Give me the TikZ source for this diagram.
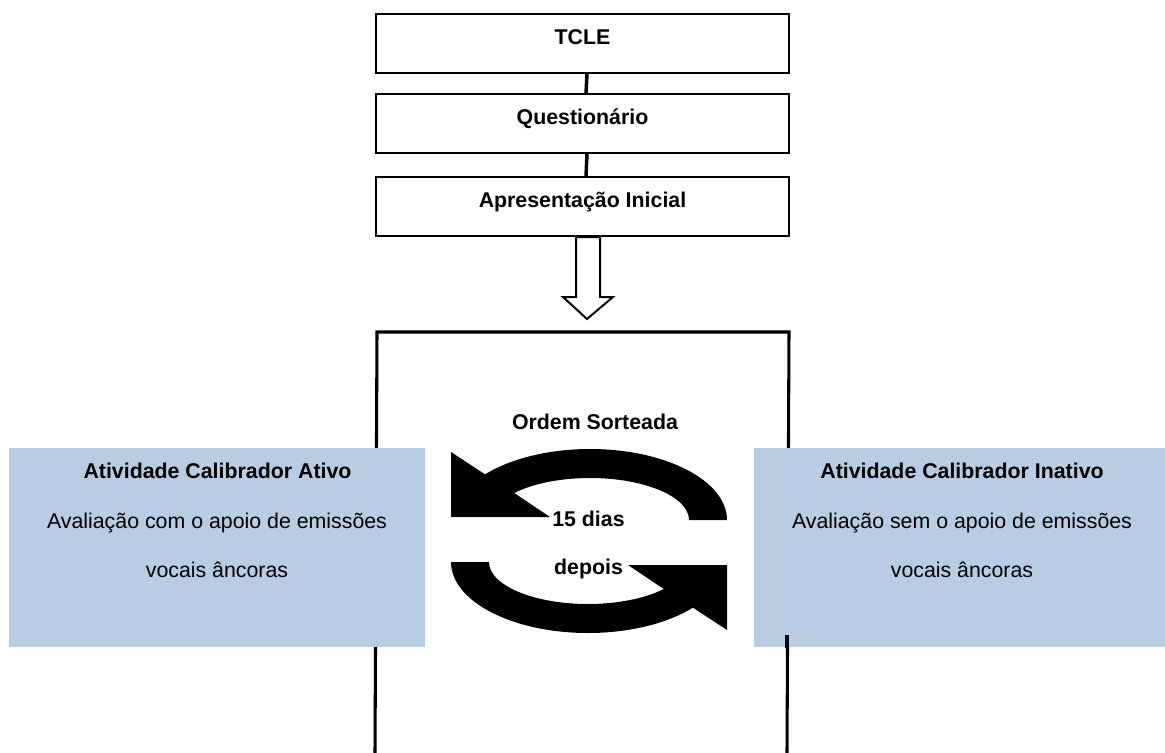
\documentclass[tikz,border=0pt]{standalone}
\usepackage{fontspec}
\setmainfont{Liberation Sans}
\usetikzlibrary{calc}
\definecolor{boxblue}{RGB}{184,204,228}
\begin{document}
\begin{tikzpicture}[x=0.75pt,y=-0.75pt,
  stepbox/.style={draw,line width=1.5pt,inner sep=0pt,minimum width=309.75pt,
    text height=22.5pt,text depth=21.75pt,font=\fontsize{16}{19}\selectfont\bfseries},
  bluebox/.style={fill=boxblue,draw=none,inner sep=0pt,minimum height=149.25pt},
  txt/.style={anchor=base,inner sep=0pt,font=\fontsize{16}{19}\selectfont},
  btxt/.style={anchor=base,inner sep=0pt,font=\fontsize{16}{19}\selectfont\bfseries},
  link/.style={line width=2.6pt},
  framel/.style={line width=2.3pt},
  hollow/.style={draw,line width=1.5pt,fill=white},
  cyc/.style={fill=black}]
\useasboundingbox (0,0) rectangle (1165,753);

% top sequence
\node[stepbox,anchor=north] (tcle)  at (582.5,13)  {TCLE};
\node[stepbox,anchor=north] (quest) at (582.5,93)  {Questionário};
\node[stepbox,anchor=north] (apres) at (582.5,176) {Apresentação Inicial};
\draw[link] ($(tcle.south)+(4.5,0)$) -- ($(quest.north)+(3.5,0)$);
\draw[link] ($(quest.south)+(4.5,0)$) -- ($(apres.north)+(3.5,0)$);

% hollow down arrow
\draw[hollow] ($(apres.south)+(-6.5,0)$) -- ++(0,60) -- ++(-13,0) -- ++(24,22)
  -- ++(26,-22) -- ++(-13,0) -- ++(0,-60) -- cycle;

% frame
\draw[framel] (375,753) -- (377,332) -- (789,332) -- (787,753);

% blue boxes
\node[bluebox,minimum width=312pt]    (ativo)   at (217,547.5)   {};
\node[bluebox,minimum width=308.25pt] (inativo) at (959.5,547.5) {};
\draw[framel] (787,635) -- (787,648);

\node[btxt] at ($(ativo.north)+(0.5,31)$) {Atividade Calibrador Ativo};
\node[txt]  at ($(ativo.north)+(0,81)$)   {Avaliação com o apoio de emissões};
\node[txt]  at ($(ativo.north)+(0,130)$)  {vocais âncoras};

\node[btxt] at ($(inativo.north)+(2.5,31)$) {Atividade Calibrador Inativo};
\node[txt]  at ($(inativo.north)+(2.5,81)$) {Avaliação sem o apoio de emissões};
\node[txt]  at ($(inativo.north)+(2.5,130)$) {vocais âncoras};

% cycle arrows
\fill[cyc] (727,520) arc[start angle=0,end angle=-140,x radius=137,y radius=71]
  -- (451,452) -- (451,517) -- (550,517) -- (514.2,493)
  arc[start angle=-140,end angle=0,x radius=99,y radius=42] -- cycle;
\begin{scope}[rotate around={180:(589,541)}]
\fill[cyc] (727,520) arc[start angle=0,end angle=-140,x radius=137,y radius=71]
  -- (451,452) -- (451,517) -- (550,517) -- (514.2,493)
  arc[start angle=-140,end angle=0,x radius=99,y radius=42] -- cycle;
\end{scope}

\node[btxt] (ordem)  at (595,429)   {Ordem Sorteada};
\node[btxt] (dias)   at (588.5,526) {15 dias};
\node[btxt] (depois) at (588.5,574) {depois};
\end{tikzpicture}
\end{document}
